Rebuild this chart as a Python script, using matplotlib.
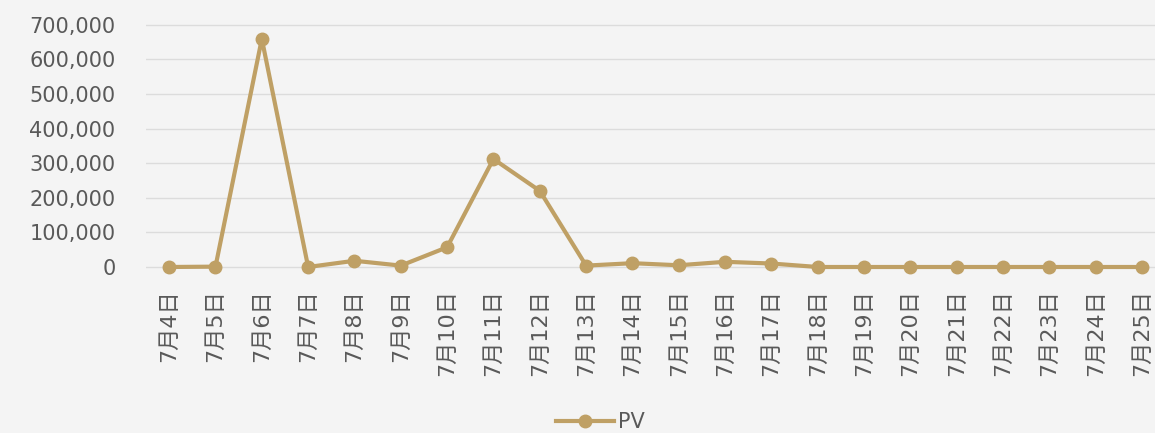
import matplotlib.pyplot as plt
from matplotlib.ticker import FuncFormatter

plt.rcParams['font.family'] = ['DejaVu Sans', 'Noto Sans CJK SC']

dates = ['7月4日', '7月5日', '7月6日', '7月7日', '7月8日', '7月9日', '7月10日',
         '7月11日', '7月12日', '7月13日', '7月14日', '7月15日', '7月16日',
         '7月17日', '7月18日', '7月19日', '7月20日', '7月21日', '7月22日',
         '7月23日', '7月24日', '7月25日']
pv = [0, 1000, 659000, 0, 18000, 4000, 57000, 312000, 220000, 4000, 11000,
      5000, 15000, 10000, 0, 0, 0, 0, 0, 0, 0, 0]
y_ticks = [0, 100000, 200000, 300000, 400000, 500000, 600000, 700000]

line_color = '#bfa065'
text_color = '#595959'

fig = plt.figure(figsize=(11.55, 4.33), dpi=100)
fig.patch.set_facecolor('#f4f4f4')
ax = fig.add_axes([146 / 1155, 0.365, 1 - 146 / 1155, 0.594])
ax.set_facecolor('none')

x = list(range(len(dates)))
ax.plot(x, pv, color=line_color, linewidth=3, marker='o', markersize=9,
        label='PV', zorder=3)

ax.set_xlim(-0.5, 21.28)
ax.set_ylim(-23000, 720000)
ax.set_yticks(y_ticks)
ax.yaxis.set_major_formatter(FuncFormatter(lambda v, p: '{:,.0f}'.format(v)))
ax.set_xticks(x)
ax.set_xticklabels(dates, rotation=90)
ax.tick_params(axis='y', length=0, colors=text_color, labelsize=15, pad=22)
ax.tick_params(axis='x', length=0, colors=text_color, labelsize=16, pad=10)
ax.grid(axis='y', color='#dcdcdc', linewidth=1)
ax.set_axisbelow(True)
for s in ax.spines.values():
    s.set_visible(False)

fig.legend(loc='center', bbox_to_anchor=(0.52, 0.025), frameon=False,
           fontsize=15, labelcolor=text_color, handlelength=2.8,
           handletextpad=0.2)

fig.savefig('out.png', dpi=100, facecolor=fig.get_facecolor())
